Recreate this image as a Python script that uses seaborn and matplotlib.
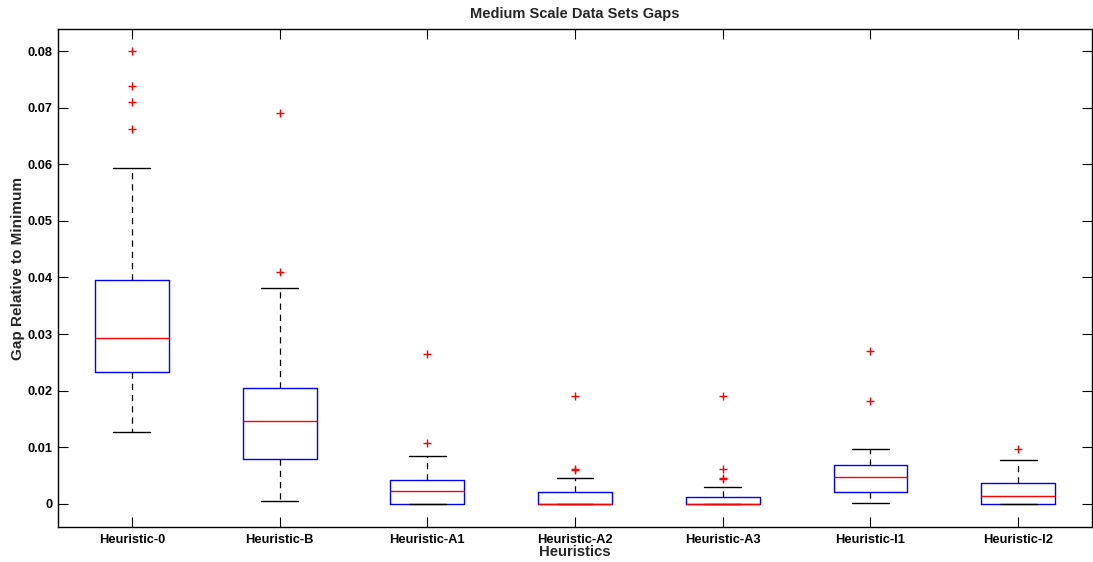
import matplotlib
matplotlib.use("Agg")
import matplotlib.pyplot as plt
import seaborn as sns

# Per-heuristic box summaries (gap relative to minimum)
heuristics = ["Heuristic-0", "Heuristic-B", "Heuristic-A1", "Heuristic-A2",
              "Heuristic-A3", "Heuristic-I1", "Heuristic-I2"]
whisker_low = [0.0127, 0.0005, 0.0, 0.0, 0.0, 0.0001, 0.0]
quartile_1 = [0.0233, 0.0079, 0.0, 0.0, 0.0, 0.0021, 0.0]
medians = [0.0293, 0.0147, 0.0023, 0.0, 0.0, 0.0047, 0.0013]
quartile_3 = [0.0396, 0.0205, 0.0042, 0.0021, 0.0012, 0.0069, 0.0037]
whisker_high = [0.0593, 0.0381, 0.0085, 0.0045, 0.0029, 0.0097, 0.0078]
outliers = [
    [0.0800, 0.0738, 0.0710, 0.0662],
    [0.0691, 0.0410],
    [0.0265, 0.0108],
    [0.0190, 0.0061, 0.0060],
    [0.0190, 0.0062, 0.0045, 0.0043],
    [0.0270, 0.0182],
    [0.0097],
]
y_ticks = [0, 0.01, 0.02, 0.03, 0.04, 0.05, 0.06, 0.07, 0.08]

sns.set_style("ticks")
plt.rcParams["font.family"] = ["Liberation Sans", "DejaVu Sans"]
plt.rcParams["font.weight"] = "bold"

stats = []
for name, lo, q1, med, q3, hi, fl in zip(heuristics, whisker_low, quartile_1,
                                         medians, quartile_3, whisker_high, outliers):
    stats.append(dict(label=name, whislo=lo, q1=q1, med=med, q3=q3,
                      whishi=hi, fliers=fl))

fig = plt.figure(figsize=(10.93, 5.62), dpi=100)
ax = fig.add_axes([0.0531, 0.0623, 0.9460, 0.8861])

ax.bxp(
    stats,
    positions=range(1, len(stats) + 1),
    widths=0.5,
    boxprops=dict(color="#0000ff", linewidth=1.0),
    medianprops=dict(color="#ff0000", linewidth=1.0),
    whiskerprops=dict(color="black", linestyle=(0, (5, 4)), linewidth=0.9),
    capprops=dict(color="black", linewidth=1.0),
    capwidths=0.25,
    flierprops=dict(marker="+", markeredgecolor="#ff0000", markersize=6,
                    markeredgewidth=1.0, linestyle="none"),
)

ax.set_xlim(0.5, 7.5)
ax.set_ylim(-0.0041, 0.0839)
ax.set_yticks(y_ticks)
ax.set_yticklabels(["0" if v == 0 else f"{v:.2f}" for v in y_ticks])
ax.set_xticks(range(1, len(heuristics) + 1))
ax.set_xticklabels(heuristics)

for side in ["top", "right", "left", "bottom"]:
    ax.spines[side].set_visible(True)
    ax.spines[side].set_linewidth(1.0)
    ax.spines[side].set_color("black")
ax.tick_params(direction="in", length=7, width=0.8, top=True, right=True,
               labelsize=9.3, colors="black")
ax.tick_params(axis="y", pad=4)
ax.tick_params(axis="x", pad=5)
for lbl in ax.get_xticklabels() + ax.get_yticklabels():
    lbl.set_fontweight("bold")

ax.set_title("Medium Scale Data Sets Gaps", fontsize=10.5, fontweight="bold", pad=8)
ax.set_xlabel("Heuristics", fontsize=10.7, fontweight="bold", labelpad=-1)
ax.set_ylabel("Gap Relative to Minimum", fontsize=11, fontweight="bold")
ax.yaxis.set_label_coords(-0.032, 0.52)

fig.savefig("out.png", dpi=100)
